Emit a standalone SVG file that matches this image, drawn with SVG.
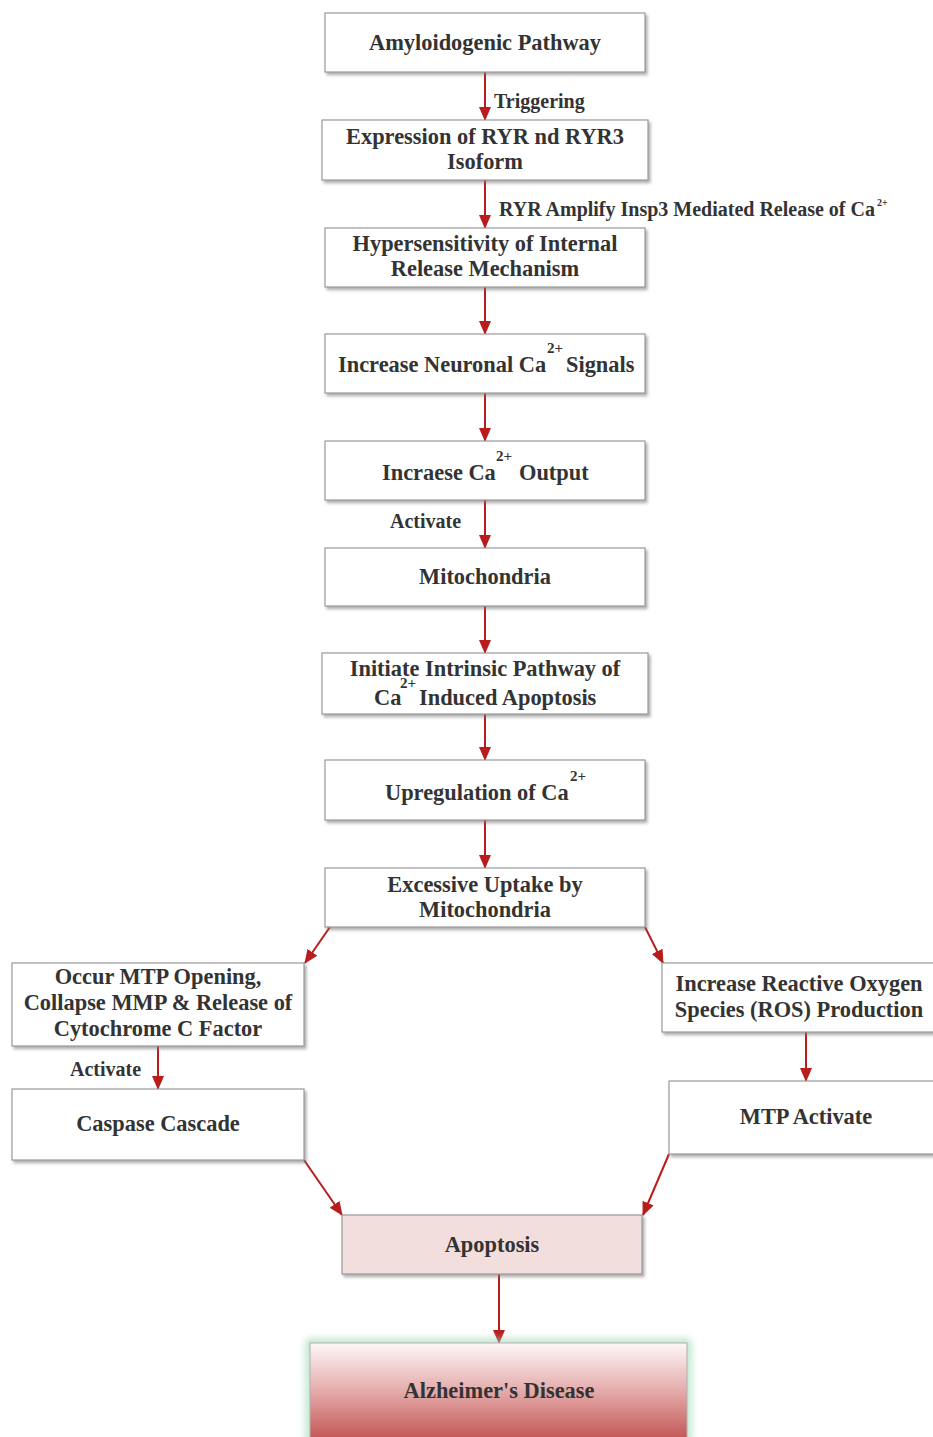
<svg xmlns="http://www.w3.org/2000/svg" width="933" height="1437" viewBox="0 0 933 1437">
<defs>
<style>
.box{fill:#fff;stroke:#9a9a9a;stroke-width:1.2;filter:url(#sh)}
.t{font-family:"Liberation Serif","Times New Roman",serif;font-weight:bold;font-size:22.4px;fill:#333;text-anchor:middle}
.ts{font-family:"Liberation Serif","Times New Roman",serif;font-weight:bold;font-size:22.4px;fill:#333;text-anchor:start}
.l{font-family:"Liberation Serif","Times New Roman",serif;font-weight:bold;font-size:20px;fill:#333}
.s{font-family:"Liberation Serif","Times New Roman",serif;font-weight:bold;font-size:15px;fill:#333}
.c{stroke:#b81c1c;stroke-width:2;fill:none;marker-end:url(#ah)}
</style>
<filter id="sh" x="-5%" y="-10%" width="115%" height="130%">
<feDropShadow dx="2" dy="2.5" stdDeviation="1.5" flood-color="#777" flood-opacity="0.6"/>
</filter>
<filter id="glow" x="-10%" y="-20%" width="120%" height="140%">
<feGaussianBlur stdDeviation="4"/>
</filter>
<linearGradient id="ad" x1="0" y1="0" x2="0" y2="1">
<stop offset="0" stop-color="#fdf7f7"/>
<stop offset="0.45" stop-color="#e6b0b0"/>
<stop offset="1" stop-color="#c0504d"/>
</linearGradient>
<marker id="ah" markerWidth="14" markerHeight="14" viewBox="0 0 14 14" refX="13" refY="7" orient="auto" markerUnits="userSpaceOnUse">
<path d="M0,1 L14,7 L0,13 Z" fill="#b81c1c"/>
</marker>
</defs>
<rect width="933" height="1437" fill="#fff"/>

<g id="connectors">
<line class="c" x1="485" y1="72" x2="485" y2="120"/>
<line class="c" x1="485" y1="180" x2="485" y2="228"/>
<line class="c" x1="485" y1="287" x2="485" y2="334"/>
<line class="c" x1="485" y1="393" x2="485" y2="441"/>
<line class="c" x1="485" y1="500" x2="485" y2="548"/>
<line class="c" x1="485" y1="606" x2="485" y2="653"/>
<line class="c" x1="485" y1="714" x2="485" y2="760"/>
<line class="c" x1="485" y1="820" x2="485" y2="868"/>
<line class="c" x1="330" y1="927" x2="305" y2="963"/>
<line class="c" x1="645" y1="927" x2="663" y2="963"/>
<line class="c" x1="158" y1="1046" x2="158" y2="1089"/>
<line class="c" x1="806" y1="1032" x2="806" y2="1081"/>
<line class="c" x1="304" y1="1160" x2="342" y2="1215"/>
<line class="c" x1="669" y1="1154" x2="643" y2="1215"/>
<line class="c" x1="499" y1="1274" x2="499" y2="1343"/>
<text class="l" x="494" y="108">Triggering</text>
<text class="l" x="499" y="216">RYR Amplify Insp3 Mediated Release of Ca</text>
<text class="s" x="877" y="206" style="font-size:10px">2+</text>
<text class="l" x="390" y="528">Activate</text>
<text class="l" x="70" y="1076">Activate</text>
</g>

<g id="n1"><rect class="box" x="325" y="13" width="320" height="59"/><text class="t" x="485" y="50">Amyloidogenic Pathway</text></g>
<g id="n2"><rect class="box" x="322" y="120" width="326" height="60"/><text class="t" x="485" y="144">Expression of RYR nd RYR3</text><text class="t" x="485" y="169">Isoform</text></g>
<g id="n3"><rect class="box" x="325" y="228" width="320" height="59"/><text class="t" x="485" y="251">Hypersensitivity of Internal</text><text class="t" x="485" y="276">Release Mechanism</text></g>
<g id="n4"><rect class="box" x="325" y="334" width="320" height="59"/><text class="ts" x="338" y="372">Increase Neuronal Ca</text><text class="s" x="547" y="353">2+</text><text class="ts" x="566" y="372">Signals</text></g>
<g id="n5"><rect class="box" x="325" y="441" width="320" height="59"/><text class="ts" x="382" y="480">Incraese Ca</text><text class="s" x="496" y="461">2+</text><text class="ts" x="519" y="480">Output</text></g>
<g id="n6"><rect class="box" x="325" y="548" width="320" height="58"/><text class="t" x="485" y="584">Mitochondria</text></g>
<g id="n7"><rect class="box" x="322" y="653" width="326" height="61"/><text class="t" x="485" y="676">Initiate Intrinsic Pathway of</text><text class="s" x="400" y="688">2+</text><text class="ts" x="374" y="705">Ca</text><text class="ts" x="419" y="705">Induced Apoptosis</text></g>
<g id="n8"><rect class="box" x="325" y="760" width="320" height="60"/><text class="ts" x="385" y="800">Upregulation of Ca</text><text class="s" x="570" y="781">2+</text></g>
<g id="n9"><rect class="box" x="325" y="868" width="320" height="59"/><text class="t" x="485" y="892">Excessive Uptake by</text><text class="t" x="485" y="917">Mitochondria</text></g>
<g id="n10"><rect class="box" x="12" y="963" width="292" height="83"/><text class="t" x="158" y="984">Occur MTP Opening,</text><text class="t" x="158" y="1010">Collapse MMP &amp; Release of</text><text class="t" x="158" y="1036">Cytochrome C Factor</text></g>
<g id="n11"><rect class="box" x="12" y="1089" width="292" height="71"/><text class="t" x="158" y="1131">Caspase Cascade</text></g>
<g id="n12"><rect class="box" x="662" y="963" width="275" height="69"/><text class="t" x="799" y="991">Increase Reactive Oxygen</text><text class="t" x="799" y="1017">Species (ROS) Production</text></g>
<g id="n13"><rect class="box" x="669" y="1081" width="268" height="73"/><text class="t" x="806" y="1124">MTP Activate</text></g>
<g id="n14"><rect class="box" x="342" y="1215" width="300" height="59" style="fill:#f3dede"/><text class="t" x="492" y="1252">Apoptosis</text></g>
<g id="n15"><rect x="310" y="1343" width="377" height="100" fill="none" stroke="#9fd8b4" stroke-width="6" filter="url(#glow)"/><rect x="310" y="1343" width="377" height="100" fill="url(#ad)" stroke="#b0b0b0" stroke-width="1"/><text class="t" x="499" y="1398">Alzheimer's Disease</text></g>
</svg>
